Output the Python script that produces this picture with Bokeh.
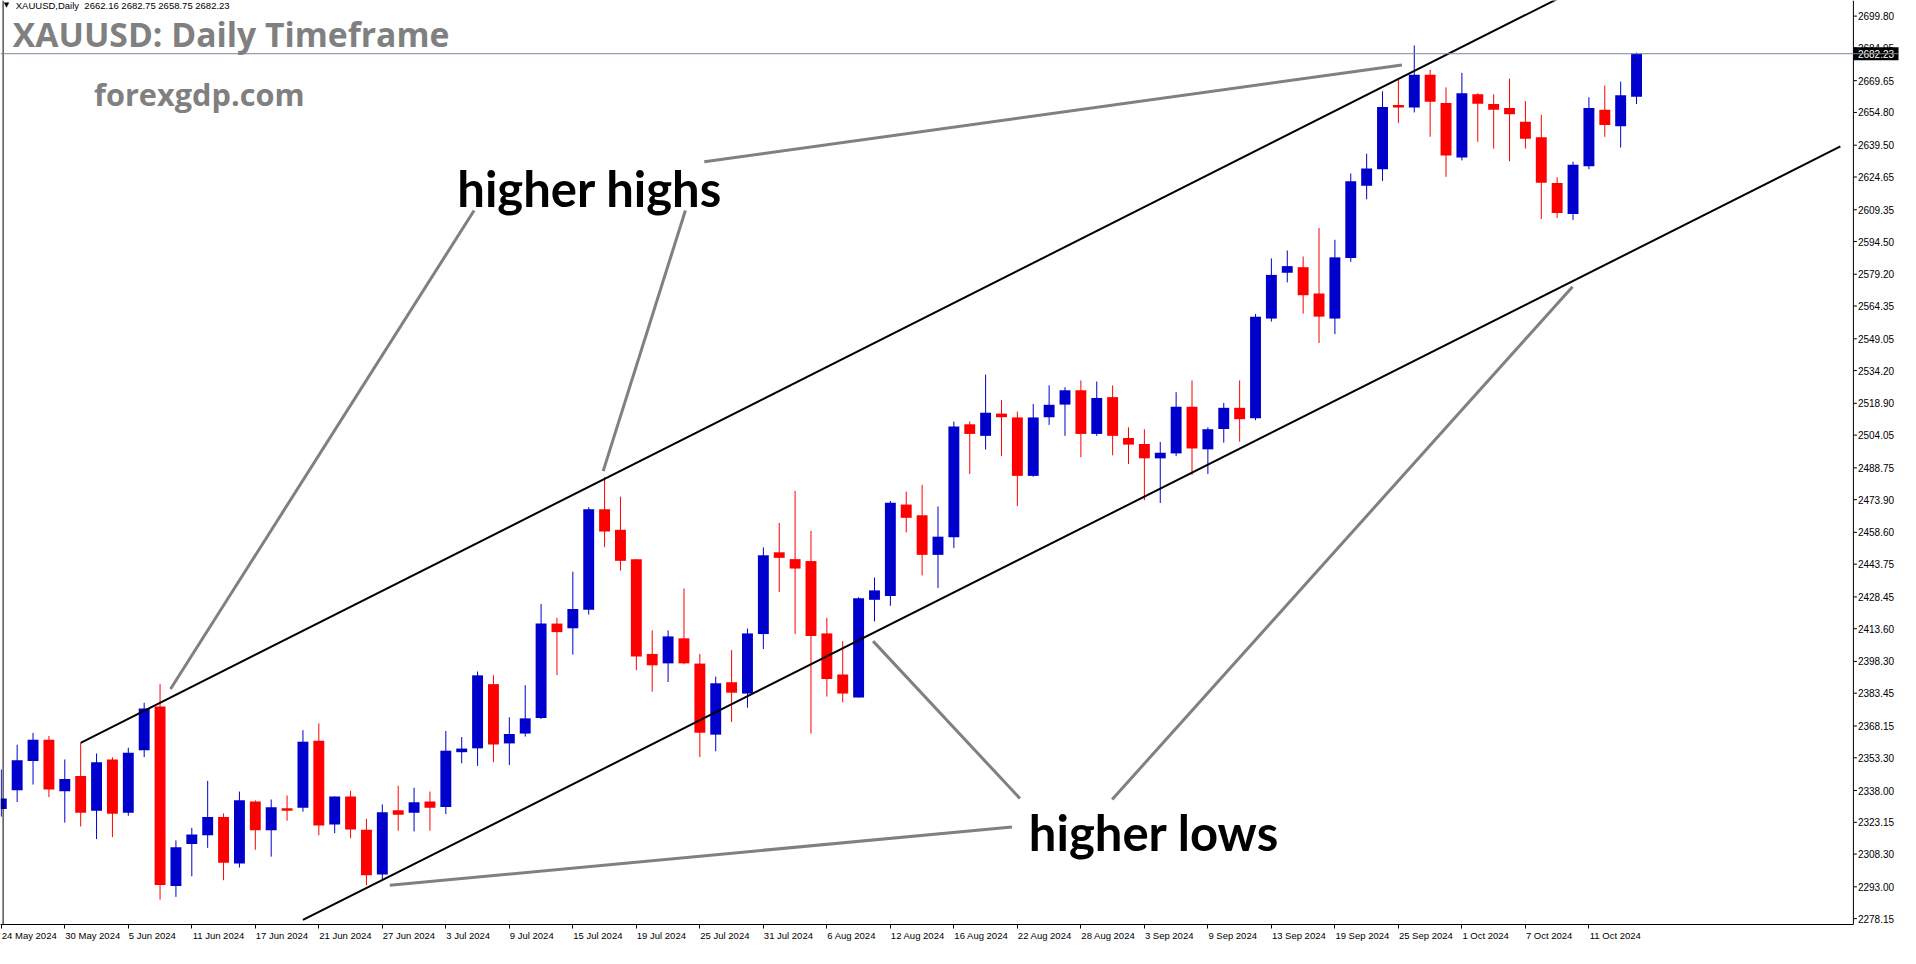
from bokeh.plotting import figure
from bokeh.models import Range1d, FixedTicker, Span, Label, ColumnDataSource, LinearAxis
from bokeh.embed import file_html
from bokeh.resources import INLINE
from bokeh.core.properties import value

# ---------------- data (XAUUSD daily) ----------------
opens = [2329.4, 2338.1, 2351.8, 2361.7, 2337.6, 2344.8, 2328.5, 2352.5, 2327.6, 2356.8,
         2377.2, 2293.4, 2313.0, 2317.1, 2325.6, 2303.9, 2332.9, 2319.4, 2329.7, 2329.9,
         2361.2, 2322.1, 2335.2, 2319.7, 2298.8, 2328.8, 2327.6, 2332.9, 2330.3, 2355.9,
         2357.7, 2387.7, 2360.0, 2364.6, 2371.9, 2416.0, 2413.8, 2422.5, 2469.4, 2459.8,
         2446.1, 2401.8, 2397.4, 2409.1, 2397.3, 2364.1, 2388.6, 2383.3, 2411.1, 2449.3,
         2446.1, 2445.2, 2411.4, 2392.2, 2381.4, 2427.1, 2428.9, 2471.6, 2466.6, 2448.1,
         2456.3, 2509.1, 2503.7, 2514.1, 2512.3, 2485.0, 2512.4, 2518.3, 2525.0, 2504.6,
         2521.8, 2502.7, 2499.9, 2493.2, 2495.5, 2517.3, 2497.4, 2506.9, 2516.8, 2511.9,
         2558.5, 2579.9, 2582.5, 2570.2, 2558.5, 2586.8, 2620.6, 2628.3, 2658.3, 2657.1,
         2672.4, 2659.2, 2633.8, 2663.3, 2658.7, 2656.9, 2650.5, 2643.2, 2621.8, 2607.3,
         2629.7, 2656.0, 2648.4, 2662.16]
highs = [2347.8, 2359.4, 2364.9, 2363.5, 2352.5, 2360.3, 2355.3, 2353.5, 2358.0, 2379.0,
         2387.7, 2314.7, 2320.6, 2342.5, 2327.3, 2337.5, 2333.4, 2333.8, 2335.7, 2366.2,
         2369.4, 2335.2, 2337.9, 2324.7, 2331.5, 2340.2, 2339.3, 2337.5, 2365.8, 2363.0,
         2393.6, 2391.8, 2372.2, 2387.2, 2425.1, 2418.7, 2440.2, 2470.3, 2484.4, 2475.3,
         2446.1, 2412.8, 2412.8, 2432.4, 2401.8, 2391.2, 2403.6, 2413.7, 2451.6, 2463.0,
         2478.0, 2459.3, 2418.7, 2407.8, 2428.3, 2437.5, 2473.3, 2477.6, 2480.8, 2470.7,
         2510.4, 2510.4, 2532.3, 2520.5, 2515.0, 2518.6, 2527.3, 2526.4, 2529.6, 2529.1,
         2527.3, 2507.7, 2506.8, 2500.8, 2524.1, 2529.6, 2507.7, 2519.1, 2529.6, 2560.6,
         2586.6, 2590.3, 2587.5, 2600.8, 2595.3, 2626.3, 2635.5, 2664.7, 2670.1, 2686.1,
         2674.7, 2666.5, 2673.3, 2663.8, 2663.3, 2670.6, 2660.1, 2653.7, 2624.5, 2631.8,
         2661.9, 2667.4, 2669.2, 2682.75]
lows = [2325.8, 2332.6, 2340.8, 2334.9, 2323.0, 2321.2, 2315.3, 2316.2, 2326.2, 2353.6,
        2287.0, 2288.3, 2297.9, 2311.2, 2296.1, 2302.0, 2310.3, 2307.1, 2323.9, 2328.1,
        2317.1, 2318.0, 2315.7, 2293.8, 2296.1, 2319.2, 2318.9, 2319.2, 2327.0, 2350.7,
        2349.5, 2351.3, 2349.9, 2363.2, 2371.4, 2391.9, 2401.5, 2420.2, 2451.7, 2440.8,
        2394.2, 2384.2, 2388.7, 2397.0, 2353.6, 2356.3, 2370.0, 2376.7, 2404.1, 2430.7,
        2411.1, 2364.6, 2381.9, 2379.2, 2381.4, 2417.0, 2424.3, 2458.6, 2438.5, 2432.6,
        2451.3, 2485.9, 2497.3, 2494.2, 2470.9, 2484.6, 2508.8, 2503.7, 2493.7, 2503.7,
        2494.6, 2490.5, 2473.6, 2472.3, 2494.2, 2485.5, 2485.9, 2500.5, 2501.0, 2511.0,
        2557.1, 2575.4, 2560.8, 2547.1, 2551.2, 2585.0, 2614.2, 2622.8, 2649.8, 2654.8,
        2643.4, 2624.7, 2632.4, 2641.1, 2637.9, 2632.0, 2637.9, 2605.0, 2605.5, 2604.6,
        2628.3, 2643.4, 2638.4, 2658.75]
closes = [2334.3, 2352.1, 2361.7, 2338.5, 2343.4, 2327.6, 2351.2, 2327.1, 2355.7, 2376.3,
          2293.8, 2311.5, 2317.4, 2325.6, 2304.3, 2333.4, 2319.4, 2330.2, 2328.5, 2360.8,
          2321.7, 2335.2, 2319.8, 2298.4, 2327.9, 2326.7, 2332.5, 2329.9, 2356.6, 2357.6,
          2391.8, 2359.5, 2364.4, 2371.7, 2416.0, 2412.0, 2422.8, 2469.4, 2459.0, 2445.3,
          2400.6, 2396.5, 2410.0, 2397.4, 2365.0, 2388.1, 2383.7, 2411.4, 2447.9, 2446.7,
          2441.7, 2410.2, 2390.1, 2383.3, 2427.8, 2431.5, 2472.5, 2465.4, 2448.1, 2456.6,
          2508.1, 2504.6, 2514.5, 2512.4, 2485.0, 2512.3, 2518.2, 2525.0, 2504.6, 2521.4,
          2503.7, 2499.6, 2493.2, 2495.8, 2517.3, 2497.8, 2506.8, 2516.8, 2511.5, 2559.3,
          2578.9, 2583.0, 2569.4, 2559.4, 2587.1, 2622.7, 2628.6, 2657.4, 2657.1, 2672.4,
          2659.8, 2634.7, 2663.8, 2658.9, 2656.1, 2653.9, 2642.5, 2621.9, 2607.8, 2630.4,
          2656.9, 2648.9, 2662.8, 2682.23]

date_tick_bars = list(range(0, 101, 4))
date_labels = ["24 May 2024", "30 May 2024", "5 Jun 2024", "11 Jun 2024", "17 Jun 2024",
               "21 Jun 2024", "27 Jun 2024", "3 Jul 2024", "9 Jul 2024", "15 Jul 2024",
               "19 Jul 2024", "25 Jul 2024", "31 Jul 2024", "6 Aug 2024", "12 Aug 2024",
               "16 Aug 2024", "22 Aug 2024", "28 Aug 2024", "3 Sep 2024", "9 Sep 2024",
               "13 Sep 2024", "19 Sep 2024", "25 Sep 2024", "1 Oct 2024", "7 Oct 2024",
               "11 Oct 2024"]
price_ticks = [2699.80, 2684.95, 2669.65, 2654.80, 2639.50, 2624.65, 2609.35, 2594.50,
               2579.20, 2564.35, 2549.05, 2534.20, 2518.90, 2504.05, 2488.75, 2473.90,
               2458.60, 2443.75, 2428.45, 2413.60, 2398.30, 2383.45, 2368.15, 2353.30,
               2338.00, 2323.15, 2308.30, 2293.00, 2278.15]
last_price = 2682.23
header_text = "XAUUSD,Daily\u00a0\u00a02662.16 2682.75 2658.75 2682.23"

# channel lines: two anchor points each (bar index, price)
upper_channel_x = [5.0, 38.0]
upper_channel_y = [2360.3, 2483.6]
lower_channel_x = [24.78, 115.84]
lower_channel_y = [2299.1, 2638.9]

# grey pointer lines (bar index / price)
arrow_x0 = [29.78, 43.09, 44.28, 24.47, 54.91, 69.97]
arrow_y0 = [2609.0, 2609.0, 2631.8, 2293.7, 2407.8, 2333.8]
arrow_x1 = [10.66, 37.91, 88.22, 63.66, 64.16, 98.97]
arrow_y1 = [2385.4, 2487.2, 2677.0, 2321.0, 2334.3, 2573.4]

# ---------------- layout constants ----------------
X_START, CHART_END, X_END = -0.05, 116.66, 119.5
Y_START, Y_END = 2275.4, 2707.1
FRAME_W, FRAME_H = 1898, 924
PX_X = FRAME_W / (X_END - X_START)          # pixels per bar
PX_Y = FRAME_H / (Y_END - Y_START)          # pixels per price unit
LABEL_SIZE = 9.5

x = list(range(len(opens)))
colors = ["#0000CD" if c >= o else "#FF0000" for o, c in zip(opens, closes)]
tops = [max(o, c) for o, c in zip(opens, closes)]
bots = [min(o, c) for o, c in zip(opens, closes)]
src = ColumnDataSource(dict(x=x, top=tops, bottom=bots, high=highs, low=lows, color=colors))

p = figure(frame_width=FRAME_W, frame_height=FRAME_H, output_backend="svg", toolbar_location=None,
           x_range=Range1d(X_START, X_END), y_range=Range1d(Y_START, Y_END),
           y_axis_location=None, min_border_left=0, min_border_top=0,
           min_border_right=2, min_border_bottom=2)
p.background_fill_color = "white"
p.border_fill_color = "white"
p.outline_line_color = None
p.xgrid.visible = False
p.ygrid.visible = False

# --- date axis: tick marks on the bars ---
xa = p.xaxis[0]
xa.ticker = FixedTicker(ticks=date_tick_bars)
xa.bounds = (X_START, CHART_END)
xa.axis_line_color = "black"
xa.major_tick_line_color = "black"
xa.major_tick_in = 0
xa.major_tick_out = 4
xa.minor_tick_in = 0
xa.minor_tick_out = 0
xa.major_label_text_font_size = "1px"
xa.major_label_text_alpha = 0
xa.major_label_standoff = 0

# --- date labels: a second axis whose labels start at each tick (MT4 style) ---
ARIAL = {"0": 556, "1": 556, "2": 556, "3": 556, "4": 556, "5": 556, "6": 556, "7": 556,
         "8": 556, "9": 556, " ": 278, "M": 833, "a": 556, "y": 500, "J": 500, "u": 556,
         "n": 556, "l": 222, "A": 667, "g": 556, "S": 667, "e": 556, "p": 556, "O": 778,
         "c": 500, "t": 278}
def label_px(s, size=LABEL_SIZE):
    return sum(ARIAL.get(ch, 556) for ch in s) * size / 1000.0
label_pos = [round(b + (label_px(s) / 2 + 0.5) / PX_X, 4) for b, s in zip(date_tick_bars, date_labels)]
lab_axis = LinearAxis(ticker=FixedTicker(ticks=label_pos),
                      major_label_overrides={pos: s for pos, s in zip(label_pos, date_labels)},
                      axis_line_color=None, major_tick_line_color=None, minor_tick_line_color=None,
                      major_tick_in=0, major_tick_out=0, minor_tick_in=0, minor_tick_out=0,
                      major_label_standoff=1, major_label_text_font="Liberation Sans",
                      major_label_text_font_size="%gpx" % LABEL_SIZE, major_label_text_color="black")
p.add_layout(lab_axis, "below")

# --- chart borders & price scale ---
p.add_layout(Span(location=X_START + 2.6 / PX_X, dimension="height", line_color="black", line_width=1))
p.add_layout(Span(location=CHART_END, dimension="height", line_color="black", line_width=1))
p.segment(x0=[CHART_END] * len(price_ticks), y0=price_ticks,
          x1=[CHART_END + 3.5 / PX_X] * len(price_ticks), y1=price_ticks,
          line_color="black", line_width=1)
p.text(x=[CHART_END + 4.5 / PX_X] * len(price_ticks), y=price_ticks,
       text=["%.2f" % t for t in price_ticks], text_font=value("Liberation Sans"),
       text_font_size=value("10px"), text_color="black", text_baseline="middle",
       text_align="left")

# bid line
p.add_layout(Span(location=last_price, dimension="width", line_color="#778899", line_width=1))

# candles
p.segment(x0="x", y0="low", x1="x", y1="high", color="color", line_width=1, source=src)
p.vbar(x="x", width=0.6875, top="top", bottom="bottom", fill_color="color",
       line_color=None, source=src)

# channel lines (extended through their anchors)
def extend(xs, ys, xa_, xb_):
    s = (ys[1] - ys[0]) / (xs[1] - xs[0])
    return [xa_, xb_], [ys[0] + s * (xa_ - xs[0]), ys[0] + s * (xb_ - xs[0])]

ux, uy = extend(upper_channel_x, upper_channel_y, 5.0, 100.0)
lx, ly = extend(lower_channel_x, lower_channel_y, 19.0, 115.84)
p.line(ux, uy, line_color="black", line_width=2)
p.line(lx, ly, line_color="black", line_width=2)

# grey pointers
p.segment(x0=arrow_x0, y0=arrow_y0, x1=arrow_x1, y1=arrow_y1, line_color="#808080", line_width=3)

# last price marker on the price scale
box_half = 6.5 / PX_Y
p.quad(left=[CHART_END], right=[CHART_END + 46 / PX_X], bottom=[last_price - box_half],
       top=[last_price + box_half], fill_color="black", line_color=None)
p.text(x=[CHART_END + 4.5 / PX_X], y=[last_price], text=["%.2f" % last_price],
       text_font=value("Liberation Sans"), text_font_size=value("10px"), text_color="white",
       text_baseline="middle", text_align="left")

# texts (baseline position + font descent correction)
def lab(xv, yv, text, font, size, color, descent):
    return Label(x=xv, y=yv + descent * size / PX_Y, text=text, text_font=font,
                 text_font_style="bold", text_font_size="%gpx" % size, text_color=color,
                 text_baseline="alphabetic", text_align="left")

p.add_layout(lab(28.72, 2614.8, "higher highs", "Lato", 49, "black", 0.21))
p.add_layout(lab(64.72, 2313.7, "higher lows", "Lato", 49, "black", 0.21))
p.add_layout(lab(0.72, 2687.5, "XAUUSD: Daily Timeframe", "Open Sans", 33.7, "#808080", 0.24))
p.add_layout(lab(5.84, 2659.9, "forexgdp.com", "Open Sans", 30.7, "#808080", 0.24))
p.add_layout(Label(x=0.91, y=2703.8 + 0.21 * 9.5 / PX_Y, text=header_text, text_font="Liberation Sans",
                   text_font_size="9.5px", text_color="black",
                   text_baseline="alphabetic", text_align="left"))
p.add_layout(Label(x=0.16, y=2704.2 + 0.21 * 9.5 / PX_Y, text="\u25BC", text_font="DejaVu Sans",
                   text_font_size="7px", text_color="black",
                   text_baseline="alphabetic", text_align="left"))

open("out.html", "w").write(file_html(p, INLINE))
